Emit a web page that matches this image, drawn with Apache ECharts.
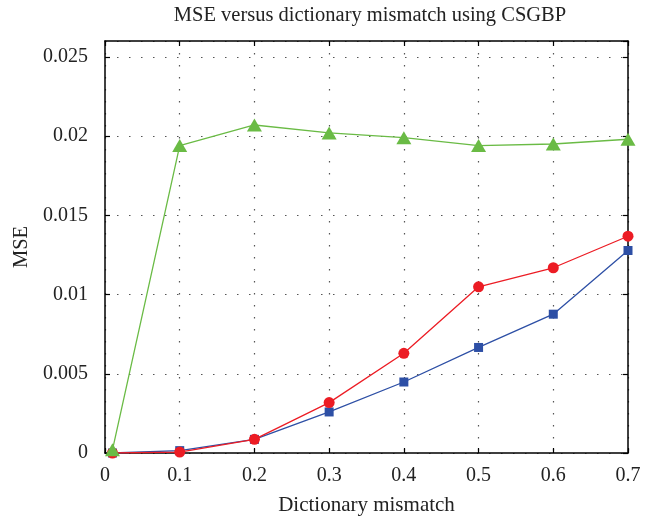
<!DOCTYPE html>
<html>
<head>
<meta charset="utf-8">
<script src="https://cdn.jsdelivr.net/npm/echarts@6/dist/echarts.min.js"></script>
<style>
  html, body { margin: 0; padding: 0; background: #fff; }
  #chart { width: 660px; height: 523px; }
</style>
</head>
<body>
<div id="chart"></div>
<script>
// Dictionary mismatch levels (x) and MSE for each method
const mismatch = [0.01, 0.1, 0.2, 0.3, 0.4, 0.5, 0.6, 0.7];
const mseBlue  = [0.0000, 0.00015, 0.00086, 0.00259, 0.00448, 0.00666, 0.00876, 0.01278];
const mseRed   = [0.0000, 0.00006, 0.00086, 0.00318, 0.00629, 0.01049, 0.01169, 0.01368];
const mseGreen = [0.0002, 0.0194, 0.0207, 0.0202, 0.0199, 0.0194, 0.0195, 0.0198];

const titleText = 'MSE versus dictionary mismatch using CSGBP';
const xName = 'Dictionary mismatch';
const yName = 'MSE';

const FONT = '"Liberation Serif", "DejaVu Serif", serif';
const GRID_LINE = { show: true, lineStyle: { color: '#555', width: 1.2, type: [1.5, 10.5] } };
const FRAME = { show: true, onZero: false, lineStyle: { color: '#000', width: 1.5 } };
const TICK = { show: true, inside: true, length: 5, lineStyle: { color: '#000', width: 1.2 } };

function pairs(ys) { return mismatch.map((x, i) => [x, ys[i]]); }
function fmt(v) { return String(+v.toFixed(4)); }

const chart = echarts.init(document.getElementById('chart'));
chart.setOption({
  animation: false,
  backgroundColor: '#fff',
  title: {
    text: titleText, left: 365, top: 0, textAlign: 'center',
    textStyle: { fontFamily: FONT, fontSize: 20.5, fontWeight: 'normal', color: '#222' }
  },
  grid: { left: 105, right: 32, top: 41, bottom: 70, containLabel: false },
  xAxis: [{
    type: 'value', min: 0, max: 0.7, interval: 0.1, position: 'bottom',
    name: xName, nameLocation: 'middle', nameGap: 42,
    nameTextStyle: { fontFamily: FONT, fontSize: 21, color: '#222' },
    axisLine: FRAME, axisTick: TICK,
    axisLabel: { fontFamily: FONT, fontSize: 20, color: '#222', margin: 13, formatter: fmt },
    splitLine: GRID_LINE
  }, {
    type: 'value', min: 0, max: 0.7, interval: 0.1, position: 'top',
    axisLine: FRAME, axisTick: TICK,
    axisLabel: { show: false }, splitLine: { show: false }
  }],
  yAxis: [{
    type: 'value', min: 0, max: 0.026, interval: 0.005, position: 'left',
    name: yName, nameLocation: 'middle', nameGap: 72, nameRotate: 90,
    nameTextStyle: { fontFamily: FONT, fontSize: 20.5, color: '#222' },
    axisLine: FRAME, axisTick: TICK,
    axisLabel: { fontFamily: FONT, fontSize: 20, color: '#222', margin: 17, showMaxLabel: false, formatter: fmt },
    splitLine: GRID_LINE
  }, {
    type: 'value', min: 0, max: 0.026, interval: 0.005, position: 'right',
    axisLine: FRAME, axisTick: TICK,
    axisLabel: { show: false }, splitLine: { show: false }
  }],
  series: [{
    type: 'line', data: pairs(mseBlue), symbol: 'rect', symbolSize: 9,
    itemStyle: { color: '#2d4fa5' }, lineStyle: { color: '#2d4fa5', width: 1.3 }, z: 3
  }, {
    type: 'line', data: pairs(mseRed), symbol: 'circle', symbolSize: 11,
    itemStyle: { color: '#ec1c24' }, lineStyle: { color: '#ec1c24', width: 1.3 }, z: 4
  }, {
    type: 'line', data: pairs(mseGreen), symbol: 'triangle', symbolSize: [15, 13],
    itemStyle: { color: '#6abb45' }, lineStyle: { color: '#6abb45', width: 1.3 }, z: 5
  }]
});
</script>
</body>
</html>
